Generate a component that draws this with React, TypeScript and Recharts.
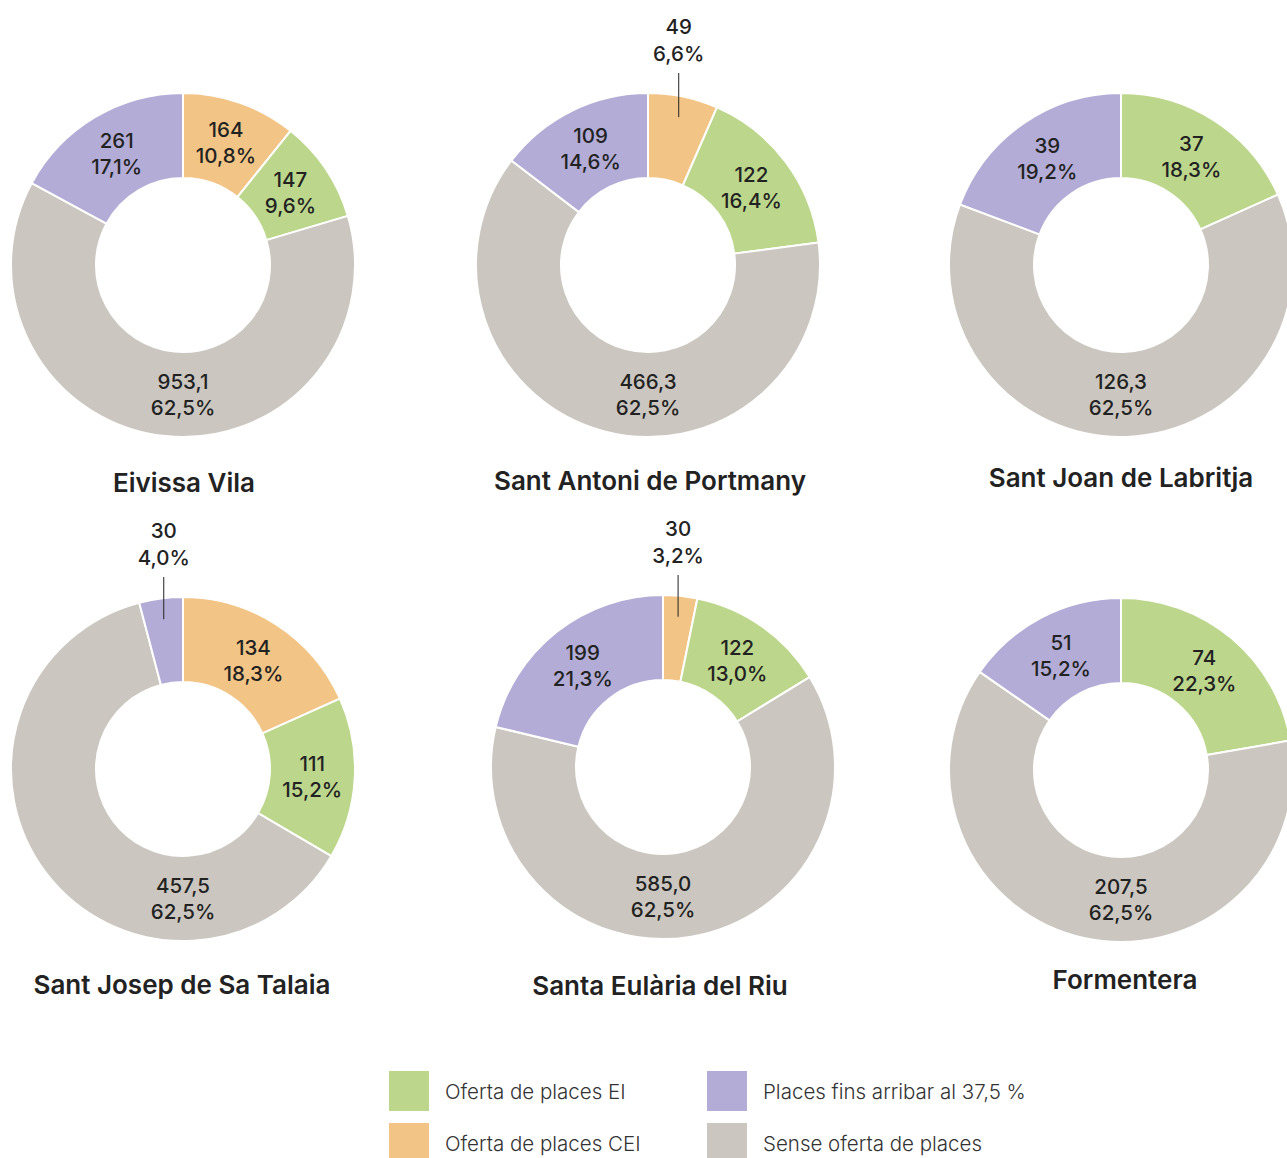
import { Cell, Pie, PieChart } from "recharts"

const municipalities = [
  "Eivissa Vila",
  "Sant Antoni de Portmany",
  "Sant Joan de Labritja",
  "Sant Josep de Sa Talaia",
  "Santa Eulària del Riu",
  "Formentera",
]

// slice order clockwise from 12 o'clock
const categories = ["Oferta de places CEI", "Oferta de places EI", "Sense oferta de places", "Places fins arribar al 37,5 %"]
const colors = ["#f2c586", "#bcd78c", "#cbc7c0", "#b3acd6"]
const decimals = [0, 0, 1, 0]
// the big grey slice gets its label at the bottom of the ring
const labelAtBottom = [false, false, true, false]

const ceiValues = [164, 49, 0, 134, 30, 0]
const eiValues = [147, 122, 37, 111, 122, 74]
const senseValues = [953.1, 466.3, 126.3, 457.5, 585.0, 207.5]
const finsValues = [261, 109, 39, 30, 199, 51]

const ceiPct = [10.8, 6.6, 0, 18.3, 3.2, 0]
const eiPct = [9.6, 16.4, 18.3, 15.2, 13.0, 22.3]
const sensePct = [62.5, 62.5, 62.5, 62.5, 62.5, 62.5]
const finsPct = [17.1, 14.6, 19.2, 4.0, 21.3, 15.2]

// legend order as in the picture
const legendOrder = [1, 0, 3, 2]

const centers = [
  [183, 265],
  [648, 265],
  [1121, 265],
  [183, 769],
  [663, 767],
  [1121, 770],
]
const titlePos = [
  [184, 482],
  [650, 480],
  [1121, 477],
  [182, 984],
  [660, 985],
  [1125, 979],
]

const FONT = "Inter, 'Liberation Sans', Arial, sans-serif"
const RADIAN = Math.PI / 180
const fmt = (v: number, d: number) => v.toFixed(d).replace(".", ",")

function buildData(i: number) {
  const vals = [ceiValues[i], eiValues[i], senseValues[i], finsValues[i]]
  const pcts = [ceiPct[i], eiPct[i], sensePct[i], finsPct[i]]
  return vals
    .map((v, k) => ({
      name: categories[k],
      value: v,
      pct: pcts[k],
      decimals: decimals[k],
      bottom: labelAtBottom[k],
      color: colors[k],
    }))
    .filter((d) => d.value > 0)
}

function renderLabel(props: any) {
  const { cx, cy, midAngle, innerRadius, outerRadius } = props
  const p = props.payload ?? props
  const angle = p.bottom ? -90 : midAngle
  const cos = Math.cos(-angle * RADIAN)
  const sin = Math.sin(-angle * RADIAN)
  const valTxt = fmt(p.value, p.decimals)
  const pctTxt = fmt(p.pct, 1) + "%"
  const style = { fontFamily: FONT, fontSize: 20.5, fontWeight: 500, fill: "#222" }

  if (p.pct < 7) {
    const x = cx + 150 * cos
    const y0 = cy + 151 * sin
    return (
      <g>
        <line x1={x} y1={y0} x2={x} y2={cy - 192} stroke="#222" strokeWidth={1} />
        <text x={x} y={cy - 239} textAnchor="middle" dominantBaseline="central" style={style}>
          {valTxt}
        </text>
        <text x={x} y={cy - 212} textAnchor="middle" dominantBaseline="central" style={style}>
          {pctTxt}
        </text>
      </g>
    )
  }

  const r = (innerRadius + outerRadius) / 2
  const x = cx + r * cos
  const y = cy + r * sin
  return (
    <g>
      <text x={x} y={y - 13} textAnchor="middle" dominantBaseline="central" style={style}>
        {valTxt}
      </text>
      <text x={x} y={y + 13} textAnchor="middle" dominantBaseline="central" style={style}>
        {pctTxt}
      </text>
    </g>
  )
}

export default function App() {
  return (
    <div
      style={{
        position: "absolute",
        left: 0,
        top: 0,
        width: 1287,
        height: 1158,
        overflow: "hidden",
        background: "#fff",
        fontFamily: FONT,
      }}
    >
      <PieChart width={1287} height={1158} margin={{ top: 0, right: 0, bottom: 0, left: 0 }}>
        {municipalities.map((m, i) => {
          const data = buildData(i)
          return (
            <Pie
              key={m}
              data={data}
              dataKey="value"
              nameKey="name"
              cx={centers[i][0]}
              cy={centers[i][1]}
              innerRadius={87}
              outerRadius={172}
              startAngle={90}
              endAngle={-270}
              stroke="#fff"
              strokeWidth={2}
              label={renderLabel}
              labelLine={false}
              isAnimationActive={false}
            >
              {data.map((d, k) => (
                <Cell key={`cell-${k}`} fill={d.color} />
              ))}
            </Pie>
          )
        })}
      </PieChart>

      {municipalities.map((m, i) => (
        <div
          key={m}
          style={{
            position: "absolute",
            left: titlePos[i][0],
            top: titlePos[i][1],
            transform: "translate(-50%, -50%)",
            whiteSpace: "nowrap",
            fontSize: 26,
            fontWeight: 600,
            color: "#222",
          }}
        >
          {m}
        </div>
      ))}

      {legendOrder.map((k, j) => {
        const col = Math.floor(j / 2)
        const row = j % 2
        const x = col === 0 ? 389 : 707
        const y = row === 0 ? 1071 : 1123
        return (
          <div key={k}>
            <div
              style={{ position: "absolute", left: x, top: y, width: 40, height: 40, background: colors[k] }}
            />
            <div
              style={{
                position: "absolute",
                left: x + 56,
                top: y + 20,
                transform: "translateY(-50%)",
                whiteSpace: "nowrap",
                fontSize: 20.5,
                fontWeight: 300,
                color: "#333",
              }}
            >
              {categories[k]}
            </div>
          </div>
        )
      })}
    </div>
  )
}
